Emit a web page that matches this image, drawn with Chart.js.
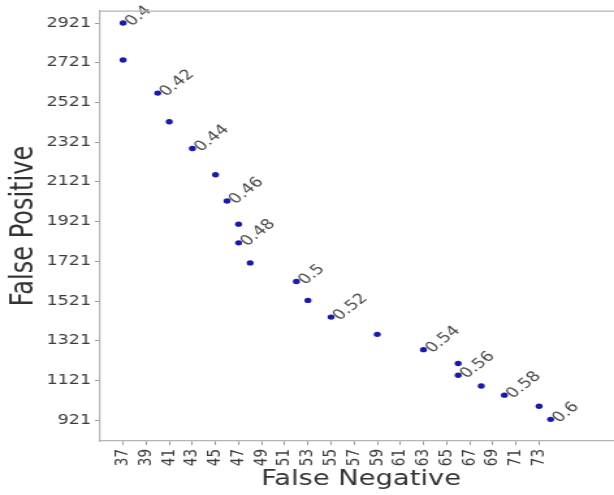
<!DOCTYPE html>
<html>
<head>
<meta charset="utf-8">
<script src="https://cdn.jsdelivr.net/npm/chart.js@4"></script>
<style>
  html, body { margin: 0; padding: 0; background: #fff; overflow: hidden; }
  #frame { width: 614px; height: 495px; overflow: hidden; position: relative; }
  /* the reference image is stretched sideways, so the chart is drawn narrow and scaled;
     the plot runs past the right edge of the window like in the reference */
  #chart { position: absolute; left: 0; top: 0; transform: scaleX(1.3008); transform-origin: 0 0; }
</style>
</head>
<body>
<div id="frame"><canvas id="chart" width="478" height="495"></canvas></div>
<script>
let falseNeg = [37, 37, 40, 41, 43, 45, 46, 47, 47, 48, 52, 53, 55, 59, 63, 66, 66, 68, 70, 73, 74];
let falsePos = [2921, 2735, 2568, 2424, 2289, 2157, 2025, 1908, 1814, 1713, 1619, 1524, 1440, 1353, 1276, 1206, 1147, 1093, 1047, 991, 925];
let thresholds = ["0.4", "", "0.42", "", "0.44", "", "0.46", "", "0.48", "", "0.5", "", "0.52", "", "0.54", "", "0.56", "", "0.58", "", "0.6"];

let xTicks = [37, 39, 41, 43, 45, 47, 49, 51, 53, 55, 57, 59, 61, 63, 65, 67, 69, 71, 73];
let yTicks = [921, 1121, 1321, 1521, 1721, 1921, 2121, 2321, 2521, 2721, 2921];

Chart.defaults.font.family = "'DejaVu Sans', sans-serif";

let spineColor = "#b4b4b4";
let tickColor = "#3c3c3c";

// threshold text next to the points, tilted 45 degrees
let pointText = {
    id: "pointText",
    afterDatasetsDraw(chart) {
        let ctx = chart.ctx;
        let meta = chart.getDatasetMeta(0);
        meta.data.forEach((pt, i) => {
            let t = thresholds[i];
            if (!t) return;
            ctx.save();
            ctx.translate(pt.x + 4, pt.y + 1);
            ctx.rotate(-Math.PI / 4);
            ctx.font = "14px 'DejaVu Sans'";
            ctx.fillStyle = "#4a4a4a";
            ctx.textAlign = "left";
            ctx.textBaseline = "middle";
            ctx.fillText(t, 0, 0);
            ctx.restore();
        });
    }
};

// top spine
let topLine = {
    id: "topLine",
    afterDraw(chart) {
        let a = chart.chartArea;
        let ctx = chart.ctx;
        ctx.save();
        ctx.strokeStyle = spineColor;
        ctx.lineWidth = 1.3;
        ctx.beginPath();
        ctx.moveTo(a.left, a.top);
        ctx.lineTo(a.right, a.top);
        ctx.stroke();
        ctx.restore();
    }
};

let ctx = document.getElementById("chart").getContext("2d");
let chart = new Chart(ctx, {
    type: "scatter",
    data: {
        datasets: [{
            data: falseNeg.map((x, i) => ({ x: x, y: falsePos[i] })),
            backgroundColor: "#1a1aaa",
            borderColor: "#1a1aaa",
            pointRadius: 2.7,
            borderWidth: 0
        }]
    },
    options: {
        responsive: false,
        animation: false,
        layout: { autoPadding: false, padding: { top: 10, right: 0, bottom: 0, left: 0 } },
        plugins: {
            legend: { display: false },
            tooltip: { enabled: false }
        },
        scales: {
            x: {
                type: "linear",
                min: 35.02,
                max: 80.16,
                afterBuildTicks: s => { s.ticks = xTicks.map(v => ({ value: v })); },
                afterFit: s => {
                    s.height = 54;
                    s.paddingLeft = 0;
                    s.paddingRight = 0;
                },
                ticks: {
                    autoSkip: false,
                    minRotation: 90,
                    maxRotation: 90,
                    padding: 4,
                    color: tickColor,
                    font: { size: 13.5 },
                    callback: v => String(v)
                },
                grid: { drawOnChartArea: false, tickLength: 4, color: "#999" },
                border: { color: spineColor, width: 1.3 },
                title: {
                    display: true,
                    text: "False Negative",
                    color: "#333",
                    font: { size: 21 },
                    padding: { top: 0, bottom: 3 }
                }
            },
            y: {
                min: 816,
                max: 2981,
                afterBuildTicks: s => { s.ticks = yTicks.map(v => ({ value: v })); },
                afterFit: s => { s.width = 77; },
                ticks: {
                    padding: 3,
                    color: tickColor,
                    font: { size: 13.5 },
                    callback: v => String(v)
                },
                grid: { drawOnChartArea: false, tickLength: 4, color: "#999" },
                border: { color: spineColor, width: 1.3 },
                title: {
                    display: true,
                    text: "False Positive",
                    color: "#333",
                    font: { size: 24 },
                    padding: { top: 4, bottom: 0 }
                }
            }
        }
    },
    plugins: [pointText, topLine]
});
</script>
</body>
</html>
